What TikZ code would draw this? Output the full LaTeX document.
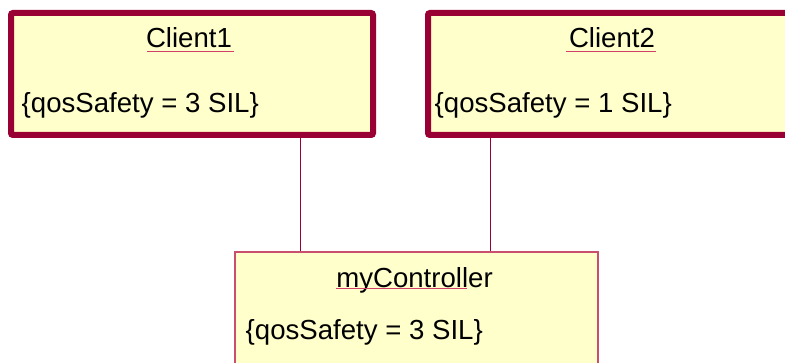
\documentclass[tikz,border=0pt]{standalone}
\usepackage{fontspec}
\setmainfont{Liberation Sans}
\definecolor{umlborder}{HTML}{990033}
\definecolor{umlfill}{HTML}{FFFFCC}
\definecolor{umlline}{HTML}{C8506E}
\definecolor{umlunder}{HTML}{D04068}
\tikzset{
  x=1pt, y=1pt,
  clientbox/.style={draw=umlborder, fill=umlfill, line width=6pt, rounded corners=2pt, inner sep=0pt},
  ctrlbox/.style={draw=umlline, fill=umlfill, line width=1.3pt, inner sep=0pt},
  umltext/.style={inner sep=0pt, font=\fontsize{27.6}{32}\selectfont, text=black},
  underline/.style={draw=umlunder, line width=1.4pt},
  link/.style={draw=umlborder, line width=1pt}
}
\begin{document}
\begin{tikzpicture}
\useasboundingbox (0,0) rectangle (785,-363);
\clip (0,0) rectangle (785,-363);
\fill[white] (0,0) rectangle (785,-363);

% instance boxes
\node[clientbox, minimum width=362, minimum height=122] (c1) at (192,-74) {};
\node[clientbox, minimum width=366, minimum height=122] (c2) at (611,-74) {};
\node[ctrlbox, minimum width=363, minimum height=130] (ctrl) at (416.5,-317) {};

% links between the instances
\draw[link] (c1.south -| 300.5,0) -- (ctrl.north -| 300.5,0);
\draw[link] (c2.south -| 490.5,0) -- (ctrl.north -| 490.5,0);

% names and constraints
\node[umltext, anchor=base] (c1name) at (189,-47.5) {Client1};
\node[umltext, anchor=base west] (c1qos) at (21.5,-113) {\{qosSafety = 3 SIL\}};
\node[umltext, anchor=base] (c2name) at (612,-47.5) {Client2};
\node[umltext, anchor=base west] (c2qos) at (434.5,-113) {\{qosSafety = 1 SIL\}};
\node[umltext, anchor=base] (ctrlname) at (414.5,-288) {myController};
\node[umltext, anchor=base west] (ctrlqos) at (245.5,-340) {\{qosSafety = 3 SIL\}};

% underlined instance names
\draw[underline] (147,-51.7) -- (234,-51.7);
\draw[underline] (566,-51.7) -- (656,-51.7);
\draw[underline] (336,-288.3) -- (467,-288.3);
\end{tikzpicture}
\end{document}
